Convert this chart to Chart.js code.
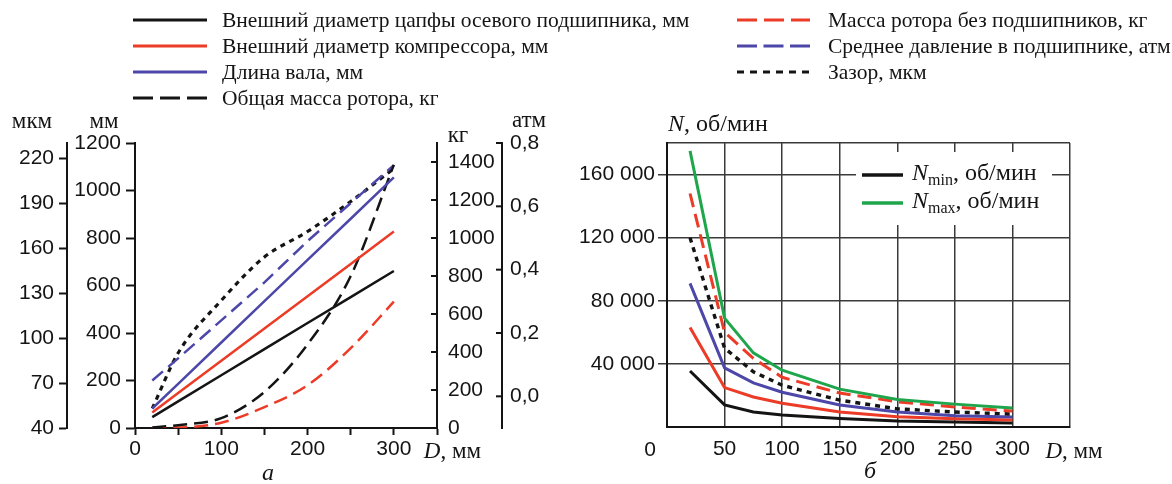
<!DOCTYPE html>
<html lang="ru">
<head>
<meta charset="utf-8">
<title>Параметры ротора</title>
<script src="https://cdn.jsdelivr.net/npm/chart.js@4.4.1/dist/chart.umd.min.js"></script>
<style>
  html, body { margin:0; padding:0; background:#fff; }
  #wrap { position:relative; width:1172px; height:484px; overflow:hidden; background:#fff; }
  canvas { position:absolute; top:0; }
  #cl { left:0; }
  #cr { left:560px; }
  #legend { position:absolute; left:0; top:0; width:1172px; height:112px; }
  .lt { position:absolute; font-family:"Liberation Serif","Times New Roman",serif; font-size:21.5px; line-height:26px; color:#141414; white-space:nowrap; }
</style>
</head>
<body>
<div id="wrap">
  <canvas id="cl" width="590" height="484" style="width:590px;height:484px"></canvas>
  <canvas id="cr" width="612" height="484" style="width:612px;height:484px"></canvas>
  <div id="legend"></div>
</div>
<script>
// ---------- data (left chart "а") ----------
const leftD = [20, 50, 100, 150, 200, 250, 300];                       // D, мм
const journalDiamMm     = [46, 112, 222, 332, 442, 551, 661];          // Внешний диаметр цапфы, мм
const compressorDiamMm  = [65, 147, 283, 419, 555, 691, 827];          // Внешний диаметр компрессора, мм
const shaftLengthMm     = [82, 186, 360, 534, 708, 881, 1055];         // Длина вала, мм
const totalMassKg       = [3, 15, 52, 190, 440, 800, 1385];            // Общая масса ротора, кг
const rotorMassKg       = [0, 2, 28, 110, 225, 420, 665];              // Масса ротора без подшипников, кг
const bearingPressureAtm= [0.05, 0.12, 0.24, 0.36, 0.49, 0.61, 0.73];  // Среднее давление, атм
const clearanceMkm      = [53, 90, 125, 154, 171, 191, 213];           // Зазор, мкм

// ---------- data (right chart "б") ----------
const rightD = [20, 50, 75, 100, 150, 200, 250, 300];
const nMax    = [175000, 69000, 47000, 36000, 24000, 17500, 14500, 12000];
const nLevel5 = [148000, 60000, 43500, 31500, 21500, 16000, 12700, 10100];
const nLevel4 = [120000, 50000, 35000, 26500, 17000, 11500, 9500, 8200];
const nLevel3 = [91000, 37500, 28000, 22000, 14000, 9500, 7200, 6300];
const nLevel2 = [63000, 25000, 19000, 15000, 9500, 6500, 5200, 4400];
const nMin    = [35500, 14000, 9500, 7600, 5400, 3800, 3200, 2500];

// ---------- ticks ----------
const leftXTicks  = [0, 50, 100, 150, 200, 250, 300, 350];
const leftXLabels = [0, 100, 200, 300];
const mkmTicks = [40, 70, 100, 130, 160, 190, 220];
const mmTicks  = [0, 200, 400, 600, 800, 1000, 1200];
const kgTicks  = [0, 200, 400, 600, 800, 1000, 1200, 1400];
const atmTicks = [0, 0.2, 0.4, 0.6, 0.8];
const rightXTicks  = [0, 50, 100, 150, 200, 250, 300, 350];
const rightXLabels = [50, 100, 150, 200, 250, 300];
const rightYTicks  = [0, 40000, 80000, 120000, 160000, 180000];
const rightYLabels = [40000, 80000, 120000, 160000];

const seriesLabels = [
  'Внешний диаметр цапфы осевого подшипника, мм',
  'Внешний диаметр компрессора, мм',
  'Длина вала, мм',
  'Общая масса ротора, кг',
  'Масса ротора без подшипников, кг',
  'Среднее давление в подшипнике, атм',
  'Зазор, мкм'
];

// ---------- styles ----------
const INK = '#141414', RED = '#ec3b26', BLUE = '#4c47a8', GREEN = '#1fa64c', GRID = '#3a3a3a';
const SANS = '"Liberation Sans", Arial, sans-serif';
const SERIF = '"Liberation Serif", "Times New Roman", serif';
const seriesColors = [INK, RED, BLUE, INK, RED, BLUE, INK];
const seriesDash = [[], [], [], [14, 7], [14, 7], [14, 7], [5, 5]];
const legendDash = ['', '', '', '20 7', '20 7', '20 6.5', '7 6'];
const tickFont = { family: SANS, size: 21 };

const pts = (xs, ys) => xs.map((x, i) => ({ x, y: ys[i] }));
const fixedTicks = arr => s => { s.ticks = arr.map(v => ({ value: v })); };
const fmtSpace = v => String(v).replace(/\B(?=(\d{3})+(?!\d))/g, ' ');
const plain = v => String(v);

// ---------- HTML legend ----------
(function buildLegend() {
  const leg = document.getElementById('legend');
  const rows = [20, 46, 72, 98];
  let svg = '<svg width="1172" height="112" style="position:absolute;left:0;top:0">';
  let html = '';
  seriesLabels.forEach((lab, i) => {
    const col = i < 4 ? 0 : 1;
    const y = rows[col === 0 ? i : i - 4];
    const x0 = col === 0 ? 133 : 737, x1 = col === 0 ? 207 : 810, tx = col === 0 ? 222 : 828;
    const dash = legendDash[i] ? ` stroke-dasharray="${legendDash[i]}"` : '';
    svg += `<line x1="${x0}" y1="${y}" x2="${x1}" y2="${y}" stroke="${seriesColors[i]}" stroke-width="3.2"${dash}/>`;
    html += `<div class="lt" style="left:${tx}px;top:${y - 13}px">${lab}</div>`;
  });
  svg += '</svg>';
  leg.innerHTML = svg + html;
})();

function richText(ctx, parts, x, y) {
  let cx = x;
  ctx.textAlign = 'left'; ctx.textBaseline = 'alphabetic';
  parts.forEach(([t, f, dy]) => { ctx.font = f; ctx.fillText(t, cx, y + (dy || 0)); cx += ctx.measureText(t).width; });
}

// ---------- left chart ----------
const leftSeries = [journalDiamMm, compressorDiamMm, shaftLengthMm, totalMassKg, rotorMassKg, bearingPressureAtm, clearanceMkm];
const leftAxes = ['mm', 'mm', 'mm', 'kg', 'kg', 'atm', 'mkm'];
const leftDatasets = leftSeries.map((ys, i) => ({
  label: seriesLabels[i],
  data: pts(leftD, ys),
  yAxisID: leftAxes[i],
  borderColor: seriesColors[i],
  borderWidth: i === 6 ? 3.2 : 2.5,
  borderDash: seriesDash[i],
  pointRadius: 0,
  fill: false,
  tension: 0,
  cubicInterpolationMode: (i === 3 || i === 4 || i === 6) ? 'monotone' : 'default'
}));

const leftDecor = {
  id: 'leftDecor',
  afterDraw(chart) {
    const { ctx, scales } = chart;
    ctx.save();
    ctx.strokeStyle = INK; ctx.lineWidth = 2;
    ['kg', 'atm'].forEach(id => {
      const s = scales[id];
      s.ticks.forEach(t => {
        const y = s.getPixelForValue(t.value);
        ctx.beginPath(); ctx.moveTo(s.left - 6, y); ctx.lineTo(s.left, y); ctx.stroke();
      });
    });
    ctx.fillStyle = INK;
    ctx.font = `23px ${SERIF}`;
    ctx.textAlign = 'center'; ctx.textBaseline = 'alphabetic';
    ctx.fillText('мкм', scales.mkm.right - 35, 128);
    ctx.fillText('мм', scales.mm.right - 31, 128);
    ctx.fillText('кг', scales.kg.left + 21, 142);
    ctx.fillText('атм', scales.atm.left + 27, 127);
    const x = scales.x;
    richText(ctx, [['D', `italic 23px ${SERIF}`], [', мм', `23px ${SERIF}`]], x.getPixelForValue(300) + 30, 458);
    ctx.textAlign = 'center';
    ctx.font = `italic 24px ${SERIF}`;
    ctx.fillText('а', 268, 480);
    ctx.restore();
  }
};

new Chart(document.getElementById('cl'), {
  type: 'line',
  data: { datasets: leftDatasets },
  options: {
    responsive: false, animation: false,
    layout: { padding: { top: 143, left: 0, right: 0, bottom: 0 } },
    plugins: { legend: { display: false }, tooltip: { enabled: false } },
    scales: {
      x: {
        type: 'linear', min: 0, max: 350,
        afterBuildTicks: fixedTicks(leftXTicks),
        afterFit: s => { s.height = 56; },
        ticks: { autoSkip: false, maxRotation: 0, font: tickFont, color: INK, padding: 2,
                 callback: v => leftXLabels.includes(v) ? String(v) : '' },
        grid: { drawOnChartArea: false, drawTicks: true, tickLength: 7, tickWidth: 2, tickColor: INK },
        border: { display: true, color: INK, width: 2 }
      },
      mkm: {
        type: 'linear', position: 'left', weight: 2, min: 40, max: 230,
        afterBuildTicks: fixedTicks(mkmTicks),
        afterFit: s => { s.width = 67; },
        ticks: { autoSkip: false, font: tickFont, color: INK, padding: 5, callback: plain },
        grid: { drawOnChartArea: false, tickLength: 8, tickWidth: 2, tickColor: INK },
        border: { display: true, color: INK, width: 2 }
      },
      mm: {
        type: 'linear', position: 'left', weight: 1, min: 0, max: 1200,
        afterBuildTicks: fixedTicks(mmTicks),
        afterFit: s => { s.width = 68; },
        ticks: { autoSkip: false, font: tickFont, color: INK, padding: 5, callback: plain },
        grid: { drawOnChartArea: false, tickLength: 9, tickWidth: 2, tickColor: INK },
        border: { display: true, color: INK, width: 2 }
      },
      kg: {
        type: 'linear', position: 'right', weight: 1, min: 0, max: 1500,
        afterBuildTicks: fixedTicks(kgTicks),
        afterFit: s => { s.width = 65; },
        ticks: { autoSkip: false, font: tickFont, color: INK, padding: 11, callback: plain },
        grid: { drawOnChartArea: false, drawTicks: false },
        border: { display: true, color: INK, width: 2 }
      },
      atm: {
        type: 'linear', position: 'right', weight: 2, min: -0.1, max: 0.8,
        afterBuildTicks: fixedTicks(atmTicks),
        afterFit: s => { s.width = 88; },
        ticks: { autoSkip: false, font: tickFont, color: INK, padding: 8,
                 callback: v => v.toFixed(1).replace('.', ',') },
        grid: { drawOnChartArea: false, drawTicks: false },
        border: { display: true, color: INK, width: 2 }
      }
    }
  },
  plugins: [leftDecor]
});

// ---------- right chart ----------
const RIGHT_OFFSET = 560;
const rightSeries = [nMax, nLevel5, nLevel4, nLevel3, nLevel2, nMin];
const rightColors = [GREEN, RED, INK, BLUE, RED, INK];
const rightDash = [[], [14, 7], [5, 5], [], [], []];
const rightLabels = ['Nmax, об/мин', '', '', '', '', 'Nmin, об/мин'];
const rightDatasets = rightSeries.map((ys, i) => ({
  label: rightLabels[i],
  data: pts(rightD, ys),
  borderColor: rightColors[i],
  borderWidth: i === 2 ? 3.4 : 3,
  borderDash: rightDash[i],
  pointRadius: 0, fill: false, tension: 0
}));

const rightDecor = {
  id: 'rightDecor',
  afterDraw(chart) {
    const { ctx, scales: { x, y } } = chart;
    ctx.save();
    ctx.fillStyle = INK;
    ctx.font = `21px ${SANS}`; ctx.textAlign = 'center'; ctx.textBaseline = 'middle';
    ctx.fillText('0', x.getPixelForValue(0) - 17, 450);
    richText(ctx, [['N', `italic 24px ${SERIF}`], [', об/мин', `24px ${SERIF}`]], x.left + 1, 131);
    richText(ctx, [['D', `italic 23px ${SERIF}`], [', мм', `23px ${SERIF}`]], x.getPixelForValue(300) + 33, 458);
    ctx.textAlign = 'center';
    ctx.font = `italic 24px ${SERIF}`;
    ctx.fillText('б', 870 - RIGHT_OFFSET, 478);
    // legend box
    const bx = 856 - RIGHT_OFFSET;
    ctx.fillStyle = '#fff';
    ctx.fillRect(bx, 152, 196, 73);
    const items = [[INK, 'min', 175, 180], [GREEN, 'max', 203, 208]];
    items.forEach(([col, sub, ly, by]) => {
      ctx.strokeStyle = col; ctx.lineWidth = 3.5; ctx.setLineDash([]);
      ctx.beginPath(); ctx.moveTo(bx + 6, ly); ctx.lineTo(bx + 47, ly); ctx.stroke();
      ctx.fillStyle = INK;
      richText(ctx, [['N', `italic 24px ${SERIF}`], [sub, `16px ${SERIF}`, 5], [', об/мин', `24px ${SERIF}`]], bx + 56, by);
    });
    ctx.restore();
  }
};

new Chart(document.getElementById('cr'), {
  type: 'line',
  data: { datasets: rightDatasets },
  options: {
    responsive: false, animation: false,
    layout: { padding: { top: 143, left: 0, right: 102, bottom: 0 } },
    plugins: { legend: { display: false }, tooltip: { enabled: false } },
    scales: {
      x: {
        type: 'linear', min: 0, max: 350,
        afterBuildTicks: fixedTicks(rightXTicks),
        afterFit: s => { s.height = 57; },
        ticks: { autoSkip: false, maxRotation: 0, font: tickFont, color: INK, padding: 10,
                 callback: v => rightXLabels.includes(v) ? String(v) : '' },
        grid: { color: GRID, lineWidth: 1.5, drawTicks: false },
        border: { display: true, color: INK, width: 2 }
      },
      y: {
        type: 'linear', min: 0, max: 180000,
        afterBuildTicks: fixedTicks(rightYTicks),
        afterFit: s => { s.width = 107; },
        ticks: { autoSkip: false, font: tickFont, color: INK, padding: 3,
                 callback: v => rightYLabels.includes(v) ? fmtSpace(v) : '' },
        grid: { color: GRID, lineWidth: 1.5, tickLength: 9, tickWidth: 1.5,
                tickColor: c => (c.tick && rightYLabels.includes(c.tick.value)) ? GRID : 'rgba(0,0,0,0)' },
        border: { display: true, color: INK, width: 2 }
      }
    }
  },
  plugins: [rightDecor]
});
</script>
</body>
</html>
